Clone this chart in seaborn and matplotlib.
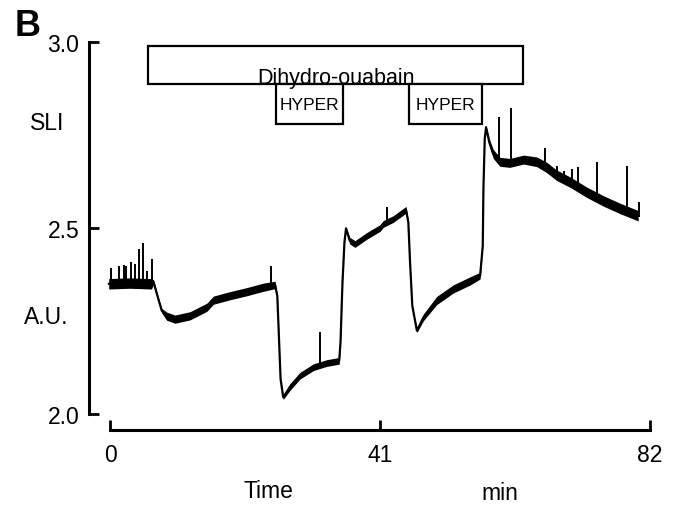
import matplotlib
matplotlib.use('Agg')
import matplotlib.pyplot as plt
from matplotlib.patches import Rectangle
import pandas as pd
import seaborn as sns

# trace: time [min], SLI [A.U.], half-width of the noise band
trace_t = [-0.2, 3.0, 6.3, 6.6, 7.34, 7.85, 8.6, 9.87, 12.15, 14.7, 15.7, 18.2,
           20.8, 23.3, 25.06, 25.4, 25.66, 25.9, 26.3, 27.3, 28.85, 30.9, 32.9,
           34.8, 35.0, 35.3, 35.6, 35.84, 36.4, 37.2, 39.0, 41.0, 41.5, 43.0,
           44.95, 45.3, 45.56, 45.9, 46.6, 47.6, 49.6, 52.1, 54.7, 56.2, 56.6,
           56.7, 56.9, 57.1, 57.6, 58.2, 59.2, 60.7, 62.8, 64.8, 66.3, 67.8,
           69.9, 72.4, 74.9, 77.4, 80.2]
trace_y = [2.350, 2.352, 2.350, 2.355, 2.309, 2.278, 2.263, 2.255, 2.264, 2.287,
           2.306, 2.318, 2.329, 2.341, 2.347, 2.318, 2.202, 2.094, 2.045, 2.072,
           2.103, 2.126, 2.137, 2.143, 2.193, 2.354, 2.462, 2.499, 2.466, 2.457,
           2.479, 2.500, 2.511, 2.524, 2.549, 2.515, 2.408, 2.291, 2.224, 2.260,
           2.305, 2.336, 2.358, 2.372, 2.452, 2.605, 2.739, 2.771, 2.730, 2.699,
           2.678, 2.675, 2.684, 2.678, 2.663, 2.642, 2.623, 2.596, 2.573, 2.553,
           2.533]
trace_noise = [0.014, 0.014, 0.014, 0.006, 0.004, 0.006, 0.011, 0.011, 0.011,
               0.011, 0.011, 0.011, 0.011, 0.011, 0.010, 0.003, 0.002, 0.002,
               0.006, 0.009, 0.009, 0.009, 0.009, 0.009, 0.002, 0.002, 0.002,
               0.004, 0.009, 0.009, 0.009, 0.009, 0.009, 0.009, 0.009, 0.003,
               0.002, 0.002, 0.005, 0.009, 0.011, 0.011, 0.011, 0.009, 0.002,
               0.002, 0.002, 0.004, 0.009, 0.012, 0.012, 0.012, 0.012, 0.013,
               0.014, 0.014, 0.014, 0.014, 0.014, 0.014, 0.014]

# artefact spikes: time, foot, tip
spike_t = [0.1, 1.4, 2.1, 2.5, 3.2, 3.85, 4.45, 5.0, 5.6, 6.4, 24.4, 31.9, 42.0,
           59.1, 60.9, 66.1, 67.9, 68.9, 70.1, 71.0, 73.9, 78.5, 80.4]
spike_lo = [2.355, 2.355, 2.355, 2.355, 2.355, 2.355, 2.355, 2.355, 2.355,
            2.355, 2.350, 2.135, 2.520, 2.680, 2.675, 2.665, 2.640, 2.630,
            2.620, 2.610, 2.585, 2.545, 2.530]
spike_hi = [2.392, 2.397, 2.401, 2.399, 2.409, 2.404, 2.444, 2.460, 2.385,
            2.417, 2.399, 2.221, 2.556, 2.798, 2.822, 2.714, 2.667, 2.654,
            2.659, 2.665, 2.678, 2.666, 2.569]

# application bars (start, end in min)
drug_label = 'Dihydro-ouabain'
drug_span = (5.77, 62.72)
hyper_spans = [(25.16, 35.34), (45.41, 56.49)]

x_ticks = [0, 41, 82]
y_ticks = [2.0, 2.5, 3.0]

sns.set_theme(style='white')
plt.rcParams['font.family'] = ['Liberation Sans', 'DejaVu Sans']
plt.rcParams['text.color'] = 'black'

df = pd.DataFrame({'t': trace_t, 'y': trace_y, 'noise': trace_noise})

fig = plt.figure(figsize=(6.78, 5.06), dpi=100)
ax = fig.add_axes([0.1313, 0.1482, 0.8422, 0.7925])

ax.fill_between(df['t'], df['y'] - df['noise'], df['y'] + df['noise'],
                color='black', lw=0)
sns.lineplot(data=df, x='t', y='y', ax=ax, color='black', lw=1.6)
ax.vlines(spike_t, spike_lo, spike_hi, color='black', lw=1.4)

# boxes marking the treatments
top, mid, low = 2.990, 2.887, 2.7796
drug_box = Rectangle((drug_span[0], mid), drug_span[1] - drug_span[0], top - mid,
                     facecolor='white', edgecolor='black', lw=1.6, zorder=3)
ax.add_patch(drug_box)
txt = ax.text(sum(drug_span) / 2, 2.8905, drug_label, ha='center',
              va='baseline', fontsize=15.5, color='black', zorder=4)
txt.set_clip_path(drug_box)
for a, b in hyper_spans:
    ax.add_patch(Rectangle((a, low), b - a, mid - low, facecolor='white',
                           edgecolor='black', lw=1.6, zorder=3))
    ax.text((a + b) / 2, (mid + low) / 2, 'HYPER', ha='center', va='center',
            fontsize=12.5, color='black', zorder=4)

ax.set_xlim(-3.19, 83.52)
ax.set_ylim(1.957, 3.035)
ax.set_xticks(x_ticks)
ax.set_xticklabels([str(v) for v in x_ticks])
ax.set_yticks(y_ticks)
ax.set_yticklabels([f'{v:.1f}' for v in y_ticks])
ax.set_xlabel('')
ax.set_ylabel('')
for side in ['top', 'right']:
    ax.spines[side].set_visible(False)
for side in ['left', 'bottom']:
    ax.spines[side].set_linewidth(2.2)
    ax.spines[side].set_color('black')
ax.spines['left'].set_bounds(2.0, 3.0)
ax.spines['bottom'].set_bounds(0, 82)
ax.tick_params(axis='y', direction='in', length=7.5, width=2.0, pad=7,
               labelsize=16.5, colors='black', left=True)
ax.tick_params(axis='x', direction='in', length=7.5, width=2.0, pad=9,
               labelsize=16.5, colors='black', bottom=True)

fig.text(15 / 678, 1 - 36 / 506, 'B', fontsize=26, fontweight='bold',
         va='baseline', ha='left', color='black')
fig.text(47 / 678, 1 - 124 / 506, 'SLI', fontsize=16.5, ha='center', va='center')
fig.text(46.5 / 678, 1 - 318 / 506, 'A.U.', fontsize=16.5, ha='center', va='center')
fig.text(268 / 678, 1 - 492 / 506, 'Time', fontsize=16.5, ha='center', va='center')
fig.text(500 / 678, 1 - 494 / 506, 'min', fontsize=16.5, ha='center', va='center')

fig.savefig('out.png', dpi=100)
